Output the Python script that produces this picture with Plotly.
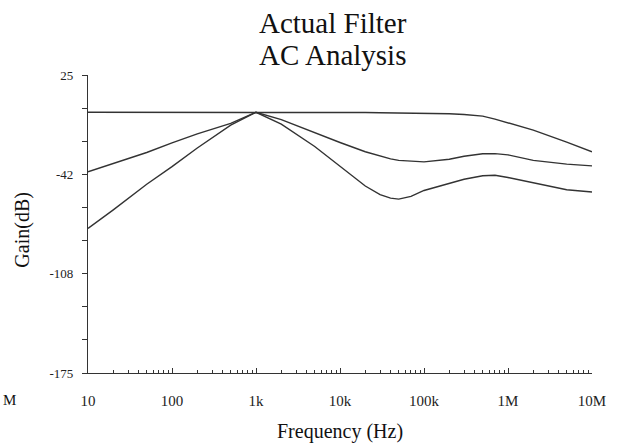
import plotly.graph_objects as go

# ---- data ----
freq_hz = [10, 20, 50, 100, 200, 500, 1000, 2000, 5000, 10000, 20000, 30000, 40000,
           50000, 70000, 100000, 200000, 300000, 500000, 700000, 1000000, 2000000,
           5000000, 10000000]
gain_flat = [0, 0, 0, 0, 0, 0, 0.3, 0, 0, 0, -0.2, -0.3, -0.35,
             -0.4, -0.45, -0.5, -1.0, -1.5, -2.6, -4.6, -7.0, -12.0,
             -20.0, -26.5]
gain_mid = [-40, -34.5, -27, -20.5, -14.5, -7.5, 0, -5.0, -14.0, -20.3, -26.5, -29.5, -31.3,
            -32.3, -33.0, -33.3, -31.5, -29.5, -27.9, -27.8, -28.6, -32.3,
            -34.8, -36.0]
gain_low = [-78, -65.5, -48.3, -36.5, -24, -8.6, 0, -8.0, -23.0, -36.5, -49.5, -55.3, -57.6,
            -58.3, -56.5, -52.5, -47.5, -45.0, -42.6, -42.3, -43.8, -47.2,
            -52.0, -53.5]

x_tick_vals = [10, 100, 1000, 10000, 100000, 1000000, 10000000]
x_tick_text = ["10", "100", "1k", "10k", "100k", "1M", "10M"]
y_tick_text = ["25", "", "", "-42", "", "", "-108", "", "", "-175"]

y_top, y_bottom = 25, -175
y_tick_vals = [y_top - (y_top - y_bottom) * k / 9 for k in range(10)]
x_minor = [m * d for d in x_tick_vals[:-1] for m in range(2, 10)]

W, H = 618, 448
L, R, T, B = 88, 21, 75, 75
PW, PH = W - L - R, H - T - B


def px(xp):
    return (xp - L) / PW


def py(yp):
    return (H - B - yp) / PH


serif = "Liberation Serif, Times New Roman, serif"
line_col = "#333333"

fig = go.Figure()
for g in (gain_flat, gain_mid, gain_low):
    fig.add_trace(go.Scatter(x=freq_hz, y=g, mode="lines",
                             line=dict(color=line_col, width=1.4),
                             showlegend=False, hoverinfo="skip"))

fig.update_layout(
    width=W, height=H,
    margin=dict(l=L, r=R, t=T, b=B),
    paper_bgcolor="white", plot_bgcolor="white",
    font=dict(family=serif, color="#222"),
    xaxis=dict(type="log", range=[1, 7], showgrid=False, zeroline=False,
               showline=True, linecolor="#333", linewidth=1.2,
               ticks="inside", ticklen=5, tickcolor="#333", tickwidth=1,
               tickvals=x_tick_vals, ticktext=x_tick_text,
               tickfont=dict(size=15, family=serif, color="#222"),
               ticklabelstandoff=14,
               minor=dict(tickvals=x_minor, ticks="inside", ticklen=3,
                          tickcolor="#333", tickwidth=1)),
    yaxis=dict(range=[y_bottom, y_top], showgrid=False, zeroline=False,
               showline=True, linecolor="#333", linewidth=1.2,
               ticks="outside", ticklen=5, tickcolor="#333", tickwidth=1,
               tickvals=y_tick_vals, ticktext=y_tick_text,
               tickfont=dict(size=13, family=serif, color="#222"),
               ticklabelstandoff=6),
)


def label(text, x, y, size, angle=0, xanchor="center"):
    fig.add_annotation(text=text, x=px(x), y=py(y), xref="paper", yref="paper",
                       xanchor=xanchor, yanchor="middle", textangle=angle,
                       showarrow=False, font=dict(size=size, family=serif, color="#111"))


label("Actual Filter", 335, 23, 29)
label("AC Analysis", 335, 55, 29)
label("Frequency (Hz)", 342, 431, 20)
label("Gain(dB)", 21, 230, 20, angle=-90)
label("M", 0, 400, 15, xanchor="left")

fig.write_html("out.html", config={"displayModeBar": False},
               post_script="document.body.style.margin='0';")
